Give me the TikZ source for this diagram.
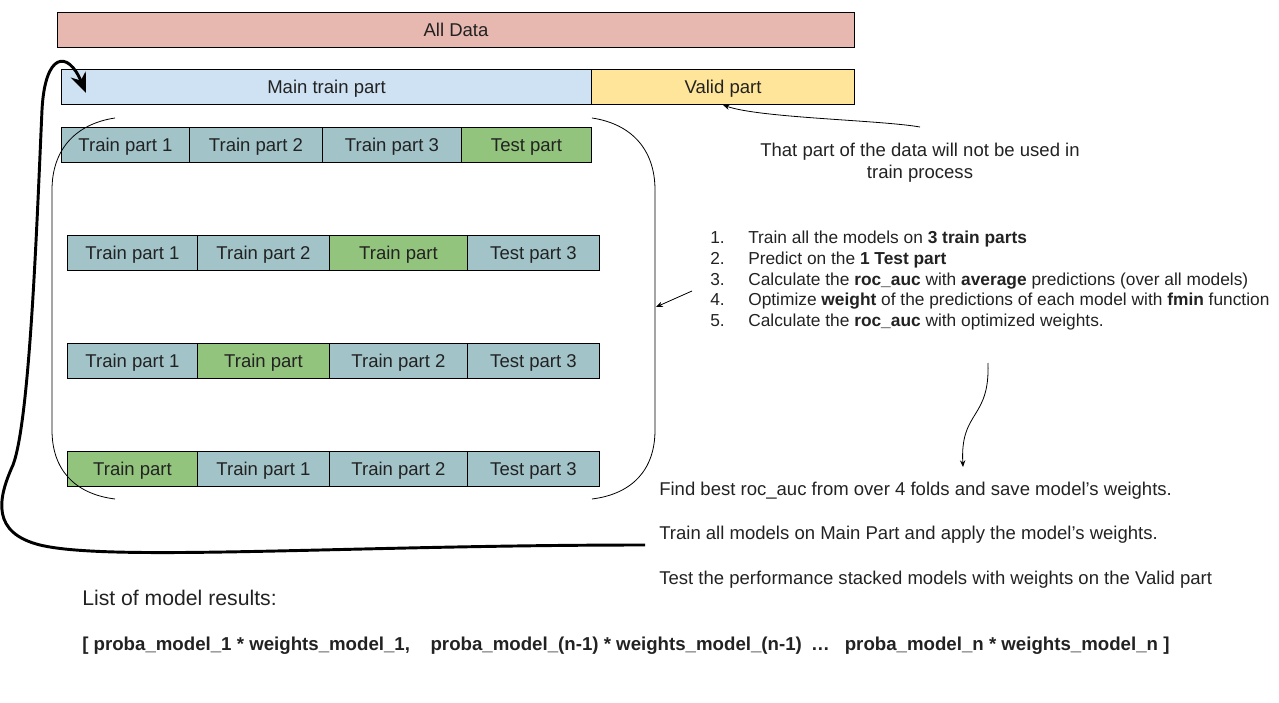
\documentclass[tikz,border=0pt]{standalone}
\usepackage{fontspec}
\setmainfont{Liberation Sans}
\usetikzlibrary{arrows.meta}
\definecolor{alldata}{HTML}{E6B8AF}
\definecolor{mainc}{HTML}{CFE2F3}
\definecolor{validc}{HTML}{FFE599}
\definecolor{tealc}{HTML}{A2C4C9}
\definecolor{greenc}{HTML}{93C47D}
\definecolor{ink}{HTML}{222222}
\tikzset{
  cell/.style={draw=black, line width=0.75pt, inner sep=0pt, anchor=north west,
    minimum height=26.25pt, text height=10pt, text depth=0pt, text=ink,
    font=\fontsize{13.9}{16}\selectfont},
  tc/.style={cell, fill=tealc},
  gc/.style={cell, fill=greenc},
  note/.style={inner sep=0pt, anchor=base west, text=ink},
  thin arrow/.style={line width=0.6pt, -{Stealth[length=5pt,width=4pt]}},
  bracket/.style={line width=0.6pt},
}
\begin{document}
\begin{tikzpicture}[x=0.75pt,y=-0.75pt]
\useasboundingbox (0,0) rectangle (1279,703);
% top bars
\node[cell, fill=alldata, minimum width=597.75pt] (all) at (57,12) {All Data};
\node[cell, fill=mainc, minimum width=397.5pt] (main) at (61,69) {Main train part};
\node[cell, fill=validc, minimum width=197.25pt] (valid) at (591,69) {Valid part};
% row 1
\node[tc, minimum width=96pt] (r1a) at (61,127) {Train part 1};
\node[tc, minimum width=99.75pt] (r1b) at (189,127) {Train part 2};
\node[tc, minimum width=104.25pt] (r1c) at (322,127) {Train part 3};
\node[gc, minimum width=97.5pt] (r1d) at (461,127) {Test part};
% row 2
\node[tc, minimum width=97.5pt] (r2a) at (67,235) {Train part 1};
\node[tc, minimum width=99pt] (r2b) at (197,235) {Train part 2};
\node[gc, minimum width=103.5pt] (r2c) at (329,235) {Train part};
\node[tc, minimum width=99pt] (r2d) at (467,235) {Test part 3};
% row 3
\node[tc, minimum width=97.5pt] (r3a) at (67,343) {Train part 1};
\node[gc, minimum width=99pt] (r3b) at (197,343) {Train part};
\node[tc, minimum width=103.5pt] (r3c) at (329,343) {Train part 2};
\node[tc, minimum width=99pt] (r3d) at (467,343) {Test part 3};
% row 4
\node[gc, minimum width=97.5pt] (r4a) at (67,451) {Train part};
\node[tc, minimum width=99pt] (r4b) at (197,451) {Train part 1};
\node[tc, minimum width=103.5pt] (r4c) at (329,451) {Train part 2};
\node[tc, minimum width=99pt] (r4d) at (467,451) {Test part 3};
% brackets
\draw[bracket] (115,118) .. controls (75,124) and (52,150) .. (52,190) -- (52,430) .. controls (52,470) and (75,494) .. (115,499);
\draw[bracket] (592,118) .. controls (632,124) and (655,150) .. (655,190) -- (655,430) .. controls (655,470) and (632,494) .. (592,499);
\coordinate (rb) at (656,307);
% note on valid part
\node[inner sep=0pt, align=center, text=ink, font=\fontsize{13.9}{16.5}\selectfont] (vnote) at (920,163) {That part of the data will not be used in\\train process};
\coordinate (vn) at (920,127);
\draw[thin arrow] (vn) .. controls (880,120) and (760,118) .. (valid.south);
% list
\begin{scope}[font=\fontsize{13}{15}\selectfont]
\node[note] (n1) at (710,243) {1.};
\node[note] (t1) at (748,243) {Train all the models on \textbf{3 train parts}};
\node[note] (n2) at (710,264) {2.};
\node[note] (t2) at (748,264) {Predict on the \textbf{1 Test part}};
\node[note] (n3) at (710,285) {3.};
\node[note] (t3) at (748,285) {Calculate the \textbf{roc\_auc} with \textbf{average} predictions (over all models)};
\node[note] (n4) at (710,305) {4.};
\node[note] (t4) at (748,305) {Optimize \textbf{weight} of the predictions of each model with \textbf{fmin} function};
\node[note] (n5) at (710,326) {5.};
\node[note] (t5) at (748,326) {Calculate the \textbf{roc\_auc} with optimized weights.};
\end{scope}
\coordinate (la) at (692,291);
\draw[thin arrow] (la) -- (rb);
% S arrow
\coordinate (sa) at (988,363);
\coordinate (sb) at (963,467);
\draw[thin arrow] (sa) .. controls (990,420) and (960,410) .. (sb);
% bottom notes
\begin{scope}[font=\fontsize{13.9}{16}\selectfont]
\node[note] (f1) at (659,495) {Find best roc\_auc from over 4 folds and save model’s weights.};
\node[note] (f2) at (659,539) {Train all models on Main Part and apply the model’s weights.};
\node[note] (f3) at (659,584) {Test the performance stacked models with weights on the Valid part};
\end{scope}
% big return arrow
\coordinate (bs) at (645,545);
\coordinate (be) at (86,93);
\draw[line width=2.2pt, -{Stealth[length=15pt,width=12pt]}] (bs) .. controls (350,545) and (110,562) .. (40,545) .. controls (-8,533) and (-3,500) .. (13,465) .. controls (30,420) and (37,220) .. (42,110) .. controls (45,52) and (68,50) .. (be);
% list of results
\node[note, font=\fontsize{15.9}{19}\selectfont] (lr) at (82,605) {List of model results:};
\node[note, font=\bfseries\fontsize{14}{17}\selectfont] (lb) at (82,650) {[ proba\_model\_1 * weights\_model\_1,\hspace{1.1em}proba\_model\_(n-1) * weights\_model\_(n-1)\hspace{0.5em}…\hspace{0.8em}proba\_model\_n * weights\_model\_n ]};
\end{tikzpicture}
\end{document}
